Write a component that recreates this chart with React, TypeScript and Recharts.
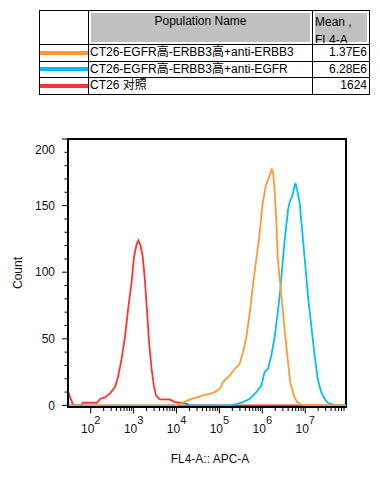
import React from 'react';
import { LineChart, Line, XAxis, YAxis, ReferenceArea } from 'recharts';

// x values are log10 of FL4-A intensity, y values are event counts
const redLog = [1.48, 1.52, 1.58, 1.64, 1.78, 1.82, 1.98, 2.15, 2.22, 2.33, 2.45, 2.57, 2.64, 2.72, 2.8, 2.87, 2.95, 3.01, 3.07, 3.11, 3.16, 3.21, 3.26, 3.32, 3.36, 3.42, 3.47, 3.52, 3.61, 3.84, 3.96, 4.08, 4.19, 4.26, 4.31, 7.95];
const redCount = [10, 6, 1, 0, 0, 2, 2, 2, 5, 6, 9, 14, 22, 35, 52, 72, 92, 112, 121, 124, 120, 112, 95, 67, 47, 27, 15, 7.5, 4.5, 4.5, 2.5, 2, 1.5, 1, 0, 0];

const cyanLog = [1.48, 5.24, 5.4, 5.55, 5.71, 5.86, 5.98, 6.05, 6.13, 6.21, 6.29, 6.36, 6.42, 6.48, 6.54, 6.6, 6.65, 6.7, 6.73, 6.77, 6.81, 6.87, 6.94, 7.01, 7.07, 7.14, 7.22, 7.29, 7.37, 7.45, 7.53, 7.61, 7.68, 7.95];
const cyanCount = [0, 0, 1, 2.5, 5, 10, 15, 25, 27.5, 37.5, 52, 70, 87, 110, 130, 147, 154, 157, 162, 167, 162, 152, 127, 102, 80, 60, 37, 20, 10, 5, 2, 1, 0, 0];

const orangeLog = [1.48, 4.0, 4.15, 4.31, 4.47, 4.62, 4.75, 4.89, 5.01, 5.08, 5.24, 5.36, 5.47, 5.55, 5.63, 5.71, 5.78, 5.86, 5.94, 6.0, 6.08, 6.15, 6.22, 6.25, 6.29, 6.33, 6.36, 6.42, 6.48, 6.54, 6.6, 6.65, 6.73, 6.81, 6.88, 6.96, 7.95];
const orangeCount = [0, 0, 2, 4.5, 6, 7.5, 8.5, 10, 12.5, 17.5, 22.5, 27.5, 31, 40, 52, 70, 90, 110, 130, 150, 165, 171, 177, 175, 160, 135, 110, 90, 70, 50, 32, 17.5, 7.5, 2.5, 1, 0, 0];

const populationNames = ['CT26-EGFR高-ERBB3高+anti-ERBB3', 'CT26-EGFR高-ERBB3高+anti-EGFR', 'CT26 对照'];
const meanValues = ['1.37E6', '6.28E6', '1624'];
const populationColors = ['#ff9933', '#00bff2', '#ff3333'];

const yMajorTicks = [0, 50, 100, 150, 200];
const xDecades = [2, 3, 4, 5, 6, 7];

const FONT = '"Liberation Sans", Arial, "Noto Sans CJK SC", sans-serif';
const X_MIN = 1.47;
const X_MAX = 7.95;
const Y_MIN = -1.2;
const Y_MAX = 200;

const toPoints = (xs: number[], ys: number[]) => xs.map((x, i) => ({ x, y: ys[i] }));
const redData = toPoints(redLog, redCount);
const cyanData = toPoints(cyanLog, cyanCount);
const orangeData = toPoints(orangeLog, orangeCount);

// minor ticks every 10 counts, minor x ticks at 2..9 x 10^n
const yTicks: number[] = [];
for (let v = 0; v <= 200; v += 10) yTicks.push(v);
const xTicks: number[] = [...xDecades];
for (let n = 2; n <= 7; n++) {
  for (let k = 2; k <= 9; k++) {
    const t = n + Math.log10(k);
    if (t <= X_MAX) xTicks.push(t);
  }
}
xTicks.sort((a, b) => a - b);

const YTick = (props: any) => {
  const { x, y, payload } = props;
  const v = payload.value;
  const major = yMajorTicks.includes(v);
  return (
    <g>
      <line x1={x} x2={x - (major ? 6 : 3.5)} y1={y} y2={y} stroke="#000" strokeWidth={1} />
      {major && (
        <text x={x - 13} y={v === 200 ? y + 11 : y} dy="0.35em" textAnchor="end" fontSize={12} fontFamily={FONT} fill="#111">
          {v}
        </text>
      )}
    </g>
  );
};

const XTick = (props: any) => {
  const { x, y, payload } = props;
  const v = payload.value;
  const major = Math.abs(v - Math.round(v)) < 1e-6;
  return (
    <g>
      <line x1={x} x2={x} y1={y} y2={y + (major ? 6.5 : 4)} stroke="#000" strokeWidth={1} />
      {major && (
        <text x={x} y={y + 26} textAnchor="middle" fontSize={12} fontFamily={FONT} fill="#111">
          10
          <tspan dy={-9} fontSize={11}>{Math.round(v)}</tspan>
        </text>
      )}
    </g>
  );
};

const cellBorder = '1px solid #000';
const grayCell = { background: '#c0c0c0', boxShadow: 'inset 0 0 0 2px #fff' };

const PopulationTable = () => (
  <table
    style={{
      position: 'absolute',
      left: 39,
      top: 10,
      width: 330,
      borderCollapse: 'collapse',
      tableLayout: 'fixed',
      fontFamily: FONT,
      fontSize: 12,
      color: '#000',
    }}
  >
    <colgroup>
      <col style={{ width: 49 }} />
      <col style={{ width: 224 }} />
      <col style={{ width: 57 }} />
    </colgroup>
    <tbody>
      <tr style={{ height: 34 }}>
        <td style={{ border: cellBorder, padding: 0 }} />
        <td style={{ border: cellBorder, padding: 0, verticalAlign: 'top', textAlign: 'center', ...grayCell }}>
          <div style={{ paddingTop: 3 }}>Population Name</div>
        </td>
        <td style={{ border: cellBorder, padding: 0, verticalAlign: 'top', ...grayCell }}>
          <div style={{ height: 32, overflow: 'hidden', lineHeight: '18px', paddingLeft: 2, paddingTop: 2, boxSizing: 'border-box' }}>
            Mean ,<br />FL4-A
          </div>
        </td>
      </tr>
      {populationNames.map((name, i) => (
        <tr key={name} style={{ height: 16.5 }}>
          <td style={{ border: cellBorder, padding: 0 }}>
            <div style={{ height: 4, background: populationColors[i] }} />
          </td>
          <td style={{ border: cellBorder, padding: '0 0 0 1px', whiteSpace: 'nowrap', lineHeight: '15px' }}>{name}</td>
          <td style={{ border: cellBorder, padding: '0 2px 0 0', textAlign: 'right', lineHeight: '15px' }}>{meanValues[i]}</td>
        </tr>
      ))}
    </tbody>
  </table>
);

export default function App() {
  return (
    <div style={{ position: 'absolute', left: 0, top: 0, width: 380, height: 480, background: '#fff' }}>
      <PopulationTable />
      <LineChart width={380} height={480} margin={{ top: 139, right: 34, bottom: 33, left: 8 }}>
        <XAxis
          dataKey="x"
          type="number"
          domain={[X_MIN, X_MAX]}
          allowDataOverflow
          ticks={xTicks}
          interval={0}
          tickSize={0}
          tickMargin={0}
          tickLine={false}
          tick={<XTick />}
          height={40}
          axisLine={{ stroke: '#000', strokeWidth: 2 }}
          label={{
            content: (p: any) => (
              <text
                x={p.viewBox.x + p.viewBox.width / 2 + 3}
                y={p.viewBox.y + 56}
                textAnchor="middle"
                fontSize={12}
                fontFamily={FONT}
                fill="#111"
              >
                FL4-A:: APC-A
              </text>
            ),
          }}
        />
        <YAxis
          type="number"
          domain={[Y_MIN, Y_MAX]}
          allowDataOverflow
          ticks={yTicks}
          interval={0}
          tickSize={0}
          tickMargin={0}
          tickLine={false}
          tick={<YTick />}
          width={60}
          axisLine={{ stroke: '#000', strokeWidth: 2 }}
          label={{
            content: (p: any) => {
              const cx = p.viewBox.x + 10;
              const cy = p.viewBox.y + p.viewBox.height / 2;
              return (
                <text
                  x={cx}
                  y={cy}
                  transform={`rotate(-90 ${cx} ${cy})`}
                  textAnchor="middle"
                  dominantBaseline="central"
                  fontSize={12}
                  fontFamily={FONT}
                  fill="#111"
                >
                  Count
                </text>
              );
            },
          }}
        />
        {/* plot frame */}
        <ReferenceArea x1={X_MIN} x2={X_MAX} y1={Y_MIN} y2={Y_MAX} fill="none" fillOpacity={0} stroke="#000" strokeWidth={2} />
        <Line data={redData} dataKey="y" type="linear" stroke={populationColors[2]} strokeWidth={1.8} dot={false} isAnimationActive={false} />
        <Line data={cyanData} dataKey="y" type="linear" stroke={populationColors[1]} strokeWidth={1.8} dot={false} isAnimationActive={false} />
        <Line data={orangeData} dataKey="y" type="linear" stroke={populationColors[0]} strokeWidth={1.8} dot={false} isAnimationActive={false} />
      </LineChart>
    </div>
  );
}
